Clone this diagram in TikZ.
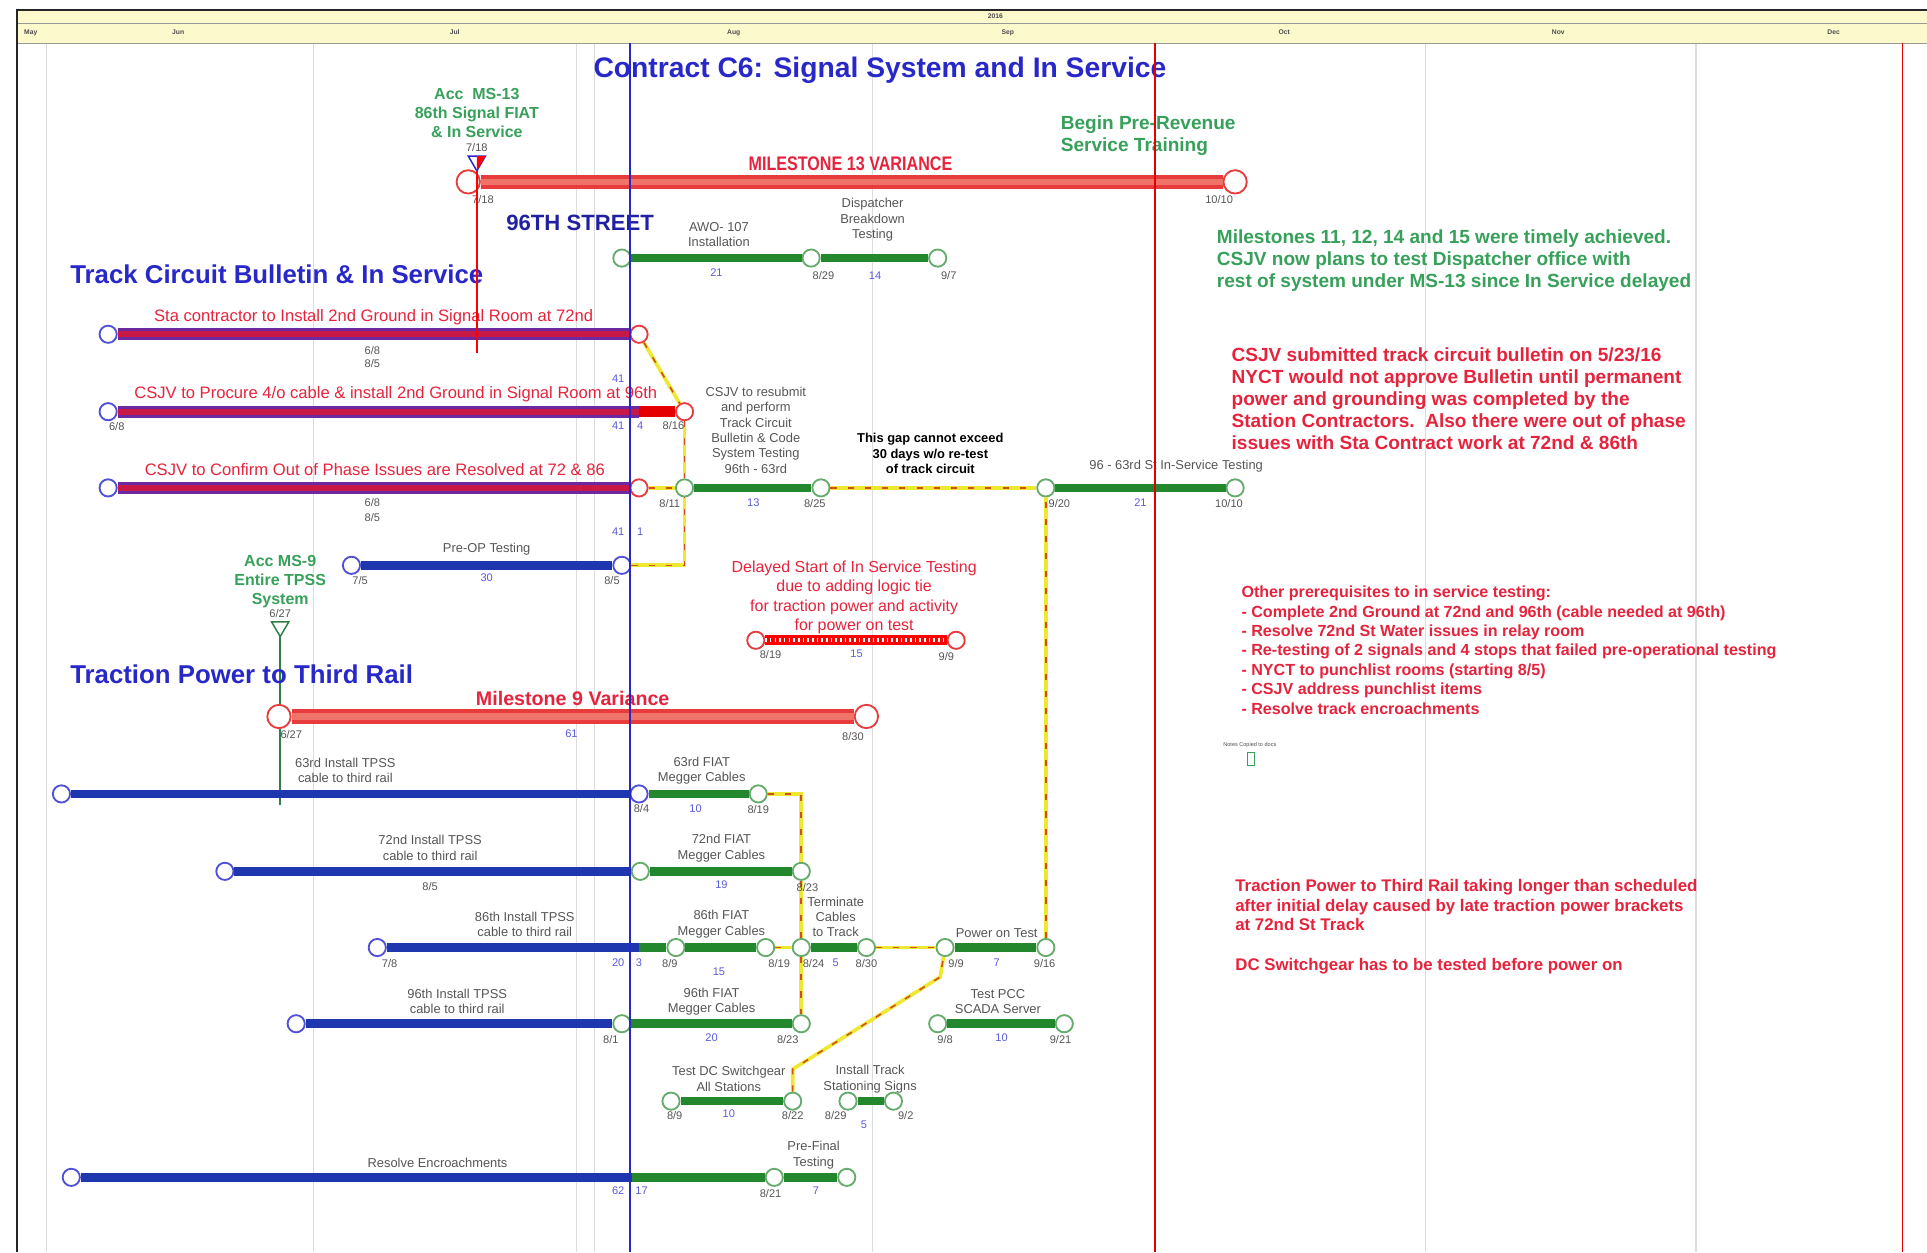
\documentclass[tikz,border=0pt]{standalone}
\usepackage{fontspec}
\setmainfont{Liberation Sans}
\newfontfamily\narrowsf[FakeStretch=0.82]{Liberation Sans}
\usetikzlibrary{positioning}
\newcommand\fsz[2]{\fontsize{#1}{#2}\selectfont}
\definecolor{ttlblue}{RGB}{40,40,200}
\definecolor{dotblue}{RGB}{80,80,215}
\definecolor{bargreen}{RGB}{35,135,45}
\definecolor{barblue}{RGB}{30,55,175}
\definecolor{barpurple}{RGB}{110,40,160}
\definecolor{barcrimson}{RGB}{200,25,70}
\definecolor{varred}{RGB}{230,60,60}
\definecolor{varpink}{RGB}{240,115,105}
\definecolor{msgreen}{RGB}{55,160,90}
\definecolor{noteRed}{RGB}{230,35,60}
\definecolor{lbl}{RGB}{85,85,85}
\definecolor{numblue}{RGB}{90,90,220}
\definecolor{gridgray}{RGB}{220,220,220}
\definecolor{hdr}{RGB}{252,250,205}
\definecolor{linkyellow}{RGB}{238,232,50}
\definecolor{linkred}{RGB}{205,80,30}
\begin{document}
\begin{tikzpicture}[x=1pt, y=-1pt,
    ring/.style={circle, draw=#1, fill=white, line width=1.5pt, minimum size=14pt, inner sep=0pt},
    bigring/.style={ring=#1, minimum size=19pt},
    tbar/.style={draw=#1, line width=7pt},
    pbar/.style={draw=barpurple, line width=10pt, postaction={draw=barcrimson, line width=5pt}},
    mbar/.style={draw=varred, line width=12pt, postaction={draw=varpink, line width=5pt}},
    dbar/.style={draw=red, line width=8pt, postaction={draw=white, line width=3pt, dash pattern=on 1.2pt off 2.6pt}},
    link/.style={draw=linkyellow, line width=3pt, postaction={draw=linkred, line width=1.3pt, dash pattern=on 5pt off 9pt}},
    head/.style={font=\bfseries\fsz{21}{24}, text=ttlblue, anchor=west, inner sep=0pt},
    ms/.style={font=\bfseries\fsz{13}{15.5}, text=msgreen, align=center, inner sep=0pt},
    task/.style={font=\fsz{10.5}{12.5}, text=lbl, align=center, inner sep=0pt},
    rowlbl/.style={font=\fsz{13.5}{15}, text=noteRed, inner sep=0pt},
    dt/.style={font=\fsz{9}{10}, text=lbl, inner sep=0pt},
    num/.style={font=\fsz{9}{10}, text=numblue, inner sep=0pt},
    note/.style={font=\bfseries\fsz{15.5}{18}, align=left, anchor=north west, inner sep=0pt}]
  \useasboundingbox (0,0) rectangle (1568,1019);
  \foreach \gx in {38,255,469,484,710,1160,1380}
    \draw[gridgray, line width=1pt] (\gx,35) -- (\gx,1019);
  \fill[hdr] (13,8) rectangle (1568,35);
  \draw[black!40] (13,19) -- (1568,19) (13,35) -- (1568,35);
  \draw[black!85, line width=2pt] (13,8) -- (1568,8);
  \draw[black!85, line width=1.5pt] (14,8) -- (14,1019);
  \node[font=\bfseries\fsz{5.5}{6}, text=black!70] (yr) at (810,13.5) {2016};
  \foreach \mo/\mx in {May/25,Jun/145,Jul/370,Aug/597,Sep/820,Oct/1045,Nov/1268,Dec/1492}
    \node[font=\bfseries\fsz{5.5}{6}, text=black!70] (mo\mo) at (\mx,26.5) {\mo};
  \draw[msgreen!80!black, line width=1.5pt] (228,517) -- (228,655);

  \node[bigring=varred] (m13a) at (381,148) {};
  \node[bigring=varred] (m13b) at (1005,148) {};
  \node[ring=bargreen!70] (aw1) at (506,210) {};
  \node[ring=bargreen!70] (aw2) at (660,210) {};
  \node[ring=bargreen!70] (aw3) at (763,210) {};
  \node[ring=dotblue] (r1a) at (88,272) {};
  \node[ring=varred] (r1e) at (520,272) {};
  \node[ring=dotblue] (r2a) at (88,335) {};
  \coordinate (r2j) at (520,335);
  \node[ring=varred] (r2e) at (557,335) {};
  \node[ring=dotblue] (r3a) at (88,397) {};
  \node[ring=varred] (r3e) at (520,397) {};
  \node[ring=bargreen!70] (tc1) at (557,397) {};
  \node[ring=bargreen!70] (tc2) at (668,397) {};
  \node[ring=bargreen!70] (it1) at (851,397) {};
  \node[ring=bargreen!70] (it2) at (1005,397) {};
  \node[ring=dotblue] (po1) at (286,460) {};
  \node[ring=dotblue] (po2) at (506,460) {};
  \node[ring=varred] (dl1) at (615,521) {};
  \node[ring=varred] (dl2) at (778,521) {};
  \node[bigring=varred] (m9a) at (227,583) {};
  \node[bigring=varred] (m9b) at (705,583) {};
  \node[ring=dotblue] (t63a) at (50,646) {};
  \node[ring=dotblue] (t63b) at (520,646) {};
  \node[ring=bargreen!70] (t63c) at (617,646) {};
  \node[ring=dotblue] (t72a) at (183,709) {};
  \node[ring=bargreen!70] (t72b) at (521,709) {};
  \node[ring=bargreen!70] (t72c) at (652,709) {};
  \node[ring=dotblue] (t86a) at (307,771) {};
  \coordinate (t86j) at (520,771);
  \node[ring=bargreen!70] (t86x) at (550,771) {};
  \node[ring=bargreen!70] (t86b) at (623,771) {};
  \node[ring=bargreen!70] (t86c) at (652,771) {};
  \node[ring=bargreen!70] (t86d) at (705,771) {};
  \node[ring=bargreen!70] (pw1) at (769,771) {};
  \node[ring=bargreen!70] (pw2) at (851,771) {};
  \node[ring=dotblue] (t90a) at (241,833) {};
  \node[ring=bargreen!70] (t90b) at (506,833) {};
  \node[ring=bargreen!70] (t90c) at (652,833) {};
  \node[ring=bargreen!70] (sc1) at (763,833) {};
  \node[ring=bargreen!70] (sc2) at (866,833) {};
  \node[ring=bargreen!70] (dc1) at (546,896) {};
  \node[ring=bargreen!70] (dc2) at (645,896) {};
  \node[ring=bargreen!70] (sg1) at (690,896) {};
  \node[ring=bargreen!70] (sg2) at (727,896) {};
  \node[ring=dotblue] (re1) at (58,958) {};
  \coordinate (re2) at (514,958);
  \node[ring=bargreen!70] (re3) at (630,958) {};
  \node[ring=bargreen!70] (re4) at (689,958) {};

  \draw[mbar] (m13a) -- (m13b);
  \draw[tbar=bargreen] (aw1) -- (aw2) (aw2) -- (aw3);
  \draw[pbar] (r1a) -- (r1e);
  \draw[pbar] (r2a) -- (r2j);
  \draw[draw=red!90!black, line width=9pt] (r2j) -- (r2e);
  \draw[pbar] (r3a) -- (r3e);
  \draw[tbar=bargreen] (tc1) -- (tc2);
  \draw[tbar=bargreen] (it1) -- (it2);
  \draw[tbar=barblue] (po1) -- (po2);
  \draw[dbar] (dl1) -- (dl2);
  \draw[mbar] (m9a) -- (m9b);
  \draw[tbar=barblue] (t63a) -- (t63b);
  \draw[tbar=bargreen] (t63b) -- (t63c);
  \draw[tbar=barblue] (t72a) -- (t72b);
  \draw[tbar=bargreen] (t72b) -- (t72c);
  \draw[tbar=barblue] (t86a) -- (t86j);
  \draw[tbar=bargreen] (t86j) -- (t86x) (t86x) -- (t86b);
  \draw[tbar=bargreen] (t86c) -- (t86d);
  \draw[tbar=bargreen] (pw1) -- (pw2);
  \draw[tbar=barblue] (t90a) -- (t90b);
  \draw[tbar=bargreen] (t90b) -- (t90c);
  \draw[tbar=bargreen] (sc1) -- (sc2);
  \draw[tbar=bargreen] (dc1) -- (dc2);
  \draw[tbar=bargreen] (sg1) -- (sg2);
  \draw[tbar=barblue] (re1) -- (re2);
  \draw[tbar=bargreen] (re2) -- (re3) (re3) -- (re4);

  \draw[link] (r1e) -- (r2e);
  \draw[link] (r2e) -- (tc1);
  \draw[link] (r3e) -- (tc1);
  \draw[link] (po2) -| (tc1);
  \draw[link] (tc2) -- (it1);
  \draw[link] (t63c) -| (t72c);
  \draw[link] (t72c) -- (t86c);
  \draw[link] (t86b) -- (t86c);
  \draw[link] (t86c) -- (t90c);
  \draw[link] (t86d) -- (pw1);
  \draw[link] (pw2) -- (it1);
  \draw[link] (dc2) -- ++(0,-26) -- ++(120,-75) -- (pw1);

  \draw[ttlblue, line width=1.2pt, fill=white] (381,127) -- (395,127) -- (388,139) -- cycle;
  \fill[red] (388,127) -- (395,127) -- (388,139) -- cycle;
  \draw[msgreen!80!black, line width=1.2pt] (221,506) -- (235,506) -- (228,518) -- cycle;

  \foreach \t/\x/\y [count=\i] in {{7/18}/388/120, {7/18}/393/162, {10/10}/992/162, {8/29}/670/224, {9/7}/772/224,
      {6/8}/303/285, {8/5}/303/296, {6/8}/95/347, {8/16}/548/346, {8/11}/545/410, {8/25}/663/410,
      {9/20}/862/410, {10/10}/1000/410, {6/8}/303/409, {8/5}/303/421, {7/5}/293/472, {8/5}/498/472,
      {6/27}/228/499, {8/19}/627/533, {9/9}/770/534, {6/27}/237/598, {8/30}/694/599, {8/4}/522/658,
      {8/19}/617/659, {8/5}/350/721, {8/23}/657/722, {7/8}/317/784, {8/9}/545/784, {8/19}/634/784,
      {8/24}/662/784, {8/30}/705/784, {9/9}/778/784, {9/16}/850/784, {8/1}/497/846, {8/23}/641/846,
      {9/8}/769/846, {9/21}/863/846, {8/9}/549/908, {8/22}/645/908, {8/29}/680/908, {9/2}/737/908,
      {8/21}/627/971}
    \node[dt] (dt\i) at (\x,\y) {\t};
  \foreach \t/\x/\y [count=\i] in {21/583/222, 14/712/224, 41/503/308, 41/503/346, 4/521/346, 41/503/433,
      1/521/433, 13/613/409, 21/928/409, 30/396/470, 15/697/532, 61/465/597, 10/566/658, 19/587/720,
      20/503/783, 3/520/783, 15/585/791, 5/680/783, 7/811/783, 20/579/844, 10/815/844, 10/593/906,
      5/703/915, 62/503/969, 17/522/969, 7/664/969}
    \node[num] (nm\i) at (\x,\y) {\t};

  \node[task] (awo) at (585,191) {AWO- 107\\Installation};
  \node[task] (disp) at (710,179) {Dispatcher\\Breakdown\\Testing};
  \node[task] (resub) at (615,350) {CSJV to resubmit\\and perform\\Track Circuit\\Bulletin \& Code\\System Testing\\96th - 63rd};
  \node[task, font=\bfseries\fsz{10.5}{12.5}, text=black] (gap) at (757,369) {This gap cannot exceed\\30 days w/o re-test\\of track circuit};
  \node[task] (ist) at (957,379) {96 - 63rd St In-Service Testing};
  \node[task] (preop) at (396,447) {Pre-OP Testing};
  \node[task] (i63) at (281,627) {63rd Install TPSS\\cable to third rail};
  \node[task] (f63) at (571,627) {63rd FIAT\\Megger Cables};
  \node[task] (i72) at (350,690) {72nd Install TPSS\\cable to third rail};
  \node[task] (f72) at (587,690) {72nd FIAT\\Megger Cables};
  \node[task] (i86) at (427,752) {86th Install TPSS\\cable to third rail};
  \node[task] (f86) at (587,752) {86th FIAT\\Megger Cables};
  \node[task] (term) at (680,746) {Terminate\\Cables\\to Track};
  \node[task] (pwr) at (811,759) {Power on Test};
  \node[task] (i96) at (372,815) {96th Install TPSS\\cable to third rail};
  \node[task] (f96) at (579,815) {96th FIAT\\Megger Cables};
  \node[task] (pcc) at (812,815) {Test PCC\\SCADA Server};
  \node[task] (dcsw) at (593,878) {Test DC Switchgear\\All Stations};
  \node[task] (sign) at (708,878) {Install Track\\Stationing Signs};
  \node[task] (encr) at (356,946) {Resolve Encroachments};
  \node[task] (pfin) at (662,940) {Pre-Final\\Testing};

  \node[rowlbl] (r1lbl) at (304,258) {Sta contractor to Install 2nd Ground in Signal Room at 72nd};
  \node[rowlbl] (r2lbl) at (322,321) {CSJV to Procure 4/o cable \& install 2nd Ground in Signal Room at 96th};
  \node[rowlbl] (r3lbl) at (305,382) {CSJV to Confirm Out of Phase Issues are Resolved at 72 \& 86};
  \node[font=\fsz{13}{15.7}, text=noteRed, align=center] (delay) at (695,486) {Delayed Start of In Service Testing\\due to adding logic tie\\for traction power and activity\\for power on test};

  \node[font=\bfseries\fsz{23}{26}, text=ttlblue] (title) at (716,57) {Contract C6: Signal System and In Service};
  \node[head] (tchead) at (57,223) {Track Circuit Bulletin \& In Service};
  \node[head] (tphead) at (57,549) {Traction Power to Third Rail};
  \node[font=\bfseries\fsz{18}{20}, text=ttlblue!80!black] (st96) at (472,181) {96TH STREET};
  \node[font=\narrowsf\bfseries\fsz{16}{18}, text=noteRed] (m13lbl) at (692,133) {MILESTONE 13 VARIANCE};
  \node[font=\bfseries\fsz{16}{18}, text=noteRed] (m9lbl) at (466,568) {Milestone 9 Variance};
  \node[ms] (acc13) at (388,92) {Acc\ \ MS-13\\86th Signal FIAT\\\& In Service};
  \node[ms] (acc9) at (228,473) {Acc MS-9\\Entire TPSS\\System};
  \node[ms, font=\bfseries\fsz{15.5}{18}, align=left, anchor=west] (prerev) at (863,110) {Begin Pre-Revenue\\Service Training};

  \node[note, text=msgreen] (timely) at (990,186.5) {Milestones 11, 12, 14 and 15 were timely achieved.\\CSJV now plans to test Dispatcher office with\\rest of system under MS-13 since In Service delayed};
  \node[note, text=noteRed] (bulletin) at (1002,282.5) {CSJV submitted track circuit bulletin on 5/23/16\\NYCT would not approve Bulletin until permanent\\power and grounding was completed by the\\Station Contractors.\ \ Also there were out of phase\\issues with Sta Contract work at 72nd \& 86th};
  \node[note, text=noteRed, font=\bfseries\fsz{13.1}{15.8}] (prereq) at (1010,476.6) {Other prerequisites to in service testing:\\- Complete 2nd Ground at 72nd and 96th (cable needed at 96th)\\- Resolve 72nd St Water issues in relay room\\- Re-testing of 2 signals and 4 stops that failed pre-operational testing\\- NYCT to punchlist rooms (starting 8/5)\\- CSJV address punchlist items\\- Resolve track encroachments};
  \node[note, text=noteRed, font=\bfseries\fsz{13.7}{16}] (tpnote) at (1005,715.3) {Traction Power to Third Rail taking longer than scheduled\\after initial delay caused by late traction power brackets\\at 72nd St Track};
  \node[note, text=noteRed, font=\bfseries\fsz{13.7}{16}] (dcnote) at (1005,779.3) {DC Switchgear has to be tested before power on};
  \node[font=\fsz{4.5}{5}, text=black!70] (cpy) at (1017,606) {Notes Copied to docs};
  \draw[msgreen, line width=0.6pt] (1015,612) rectangle (1021,623);

  \draw[ttlblue, line width=1.6pt] (513,35) -- (513,1019);
  \draw[red!90!black, line width=1.5pt] (940,35) -- (940,1019);
  \draw[red!90!black, line width=1.5pt] (1548,35) -- (1548,1019);
  \draw[red, line width=1.5pt] (388,139) -- (388,287);
\end{tikzpicture}
\end{document}
